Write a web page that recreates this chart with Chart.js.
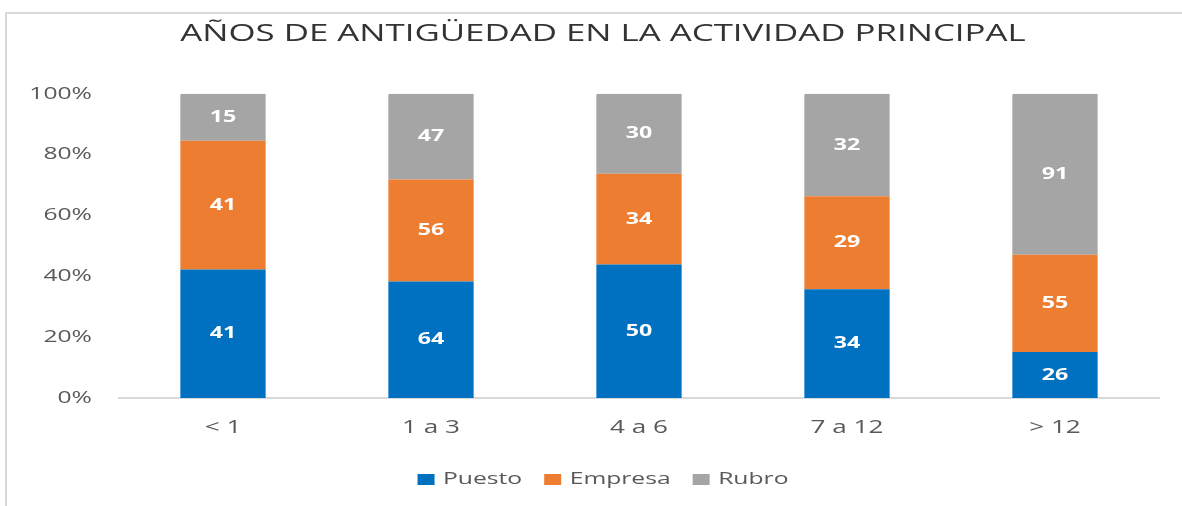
<!DOCTYPE html>
<html>
<head>
<meta charset="utf-8">
<script src="https://cdn.jsdelivr.net/npm/chart.js@4/dist/chart.umd.min.js"></script>
<style>
html,body{margin:0;padding:0;background:#fff;overflow:hidden;}
#wrap{position:relative;width:1182px;height:506px;overflow:hidden;}
#frame{position:absolute;left:5px;top:12px;width:1200px;height:520px;border-left:2px solid #d9d9d9;border-top:2px solid #d9d9d9;pointer-events:none;}
canvas{position:absolute;left:0;top:0;}
</style>
</head>
<body>
<div id="wrap">
<canvas id="c" width="1206" height="506"></canvas>
<div id="frame"></div>
</div>
<script>
const categories = ['< 1', '1 a 3', '4 a 6', '7 a 12', '> 12'];
const puesto  = [41, 64, 50, 34, 26];
const empresa = [41, 56, 34, 29, 55];
const rubro   = [15, 47, 30, 32, 91];
const yTicks  = [0, 20, 40, 60, 80, 100];
const titleText = 'AÑOS DE ANTIGÜEDAD EN LA ACTIVIDAD PRINCIPAL';

const totals = categories.map((_, i) => puesto[i] + empresa[i] + rubro[i]);
const pct = arr => arr.map((v, i) => v / totals[i] * 100);
const counts = [puesto, empresa, rubro];

const FONT = "'Open Sans', 'Noto Sans', sans-serif";
const SX = 1.45; // horizontal text stretch seen in the reference

const canvas = document.getElementById('c');
const ctx2d = canvas.getContext('2d');
const origFill = ctx2d.fillText.bind(ctx2d);
const origMeasure = ctx2d.measureText.bind(ctx2d);
ctx2d.fillText = function (t, x, y, mw) {
  this.save();
  this.translate(x, y);
  this.scale(SX, 1);
  if (mw !== undefined) origFill(t, 0, 0, mw / SX); else origFill(t, 0, 0);
  this.restore();
};
ctx2d.measureText = function (t) {
  const m = origMeasure(t);
  return {
    width: m.width * SX,
    actualBoundingBoxLeft: m.actualBoundingBoxLeft * SX,
    actualBoundingBoxRight: m.actualBoundingBoxRight * SX,
    actualBoundingBoxAscent: m.actualBoundingBoxAscent,
    actualBoundingBoxDescent: m.actualBoundingBoxDescent,
    fontBoundingBoxAscent: m.fontBoundingBoxAscent,
    fontBoundingBoxDescent: m.fontBoundingBoxDescent
  };
};

const labelPlugin = {
  id: 'segLabels',
  afterDatasetsDraw(chart) {
    const ctx = chart.ctx;
    ctx.save();
    ctx.fillStyle = '#ffffff';
    ctx.font = "bold 16px " + FONT;
    ctx.textAlign = 'center';
    ctx.textBaseline = 'middle';
    chart.data.datasets.forEach((ds, di) => {
      chart.getDatasetMeta(di).data.forEach((bar, i) => {
        const yc = (bar.y + bar.base) / 2;
        ctx.fillText(String(counts[di][i]), bar.x, yc);
      });
    });
    ctx.restore();
  }
};

new Chart(canvas, {
  type: 'bar',
  data: {
    labels: categories,
    datasets: [
      {label: 'Puesto', data: pct(puesto), backgroundColor: '#0070C0'},
      {label: 'Empresa', data: pct(empresa), backgroundColor: '#ED7D31'},
      {label: 'Rubro', data: pct(rubro), backgroundColor: '#A5A5A5'}
    ]
  },
  options: {
    responsive: false,
    animation: false,
    devicePixelRatio: 1,
    layout: {padding: {top: 20, right: 0, bottom: 8, left: 0}},
    datasets: {bar: {categoryPercentage: 1, barPercentage: 0.41}},
    plugins: {
      title: {display: true, text: titleText, color: '#333333',
        font: {family: FONT, size: 24, weight: 'normal'}, padding: {top: 0, bottom: 45}},
      legend: {position: 'bottom',
        labels: {boxWidth: 17, boxHeight: 11, color: '#595959', padding: 22,
          font: {family: FONT, size: 17}}},
      tooltip: {enabled: false}
    },
    scales: {
      x: {stacked: true,
        grid: {display: false, drawTicks: false},
        border: {display: true, color: '#d9d9d9', width: 2},
        ticks: {color: '#595959', font: {family: FONT, size: 18}, padding: 19},
        afterFit(s) { s.height = 51; }
      },
      y: {stacked: true, min: 0, max: 100, position: 'left',
        grid: {display: false, drawTicks: false},
        border: {display: false},
        afterBuildTicks(s) { s.ticks = yTicks.map(v => ({value: v})); },
        ticks: {color: '#595959', font: {family: FONT, size: 17}, padding: 27,
          callback: v => v + '%'},
        afterFit(s) { s.width = 119; }
      },
      yRight: {position: 'right', min: 0, max: 100, display: true,
        grid: {display: false, drawTicks: false},
        border: {display: false},
        ticks: {display: false},
        afterFit(s) { s.width = 47; }
      }
    }
  },
  plugins: [labelPlugin]
});
</script>
</body>
</html>
